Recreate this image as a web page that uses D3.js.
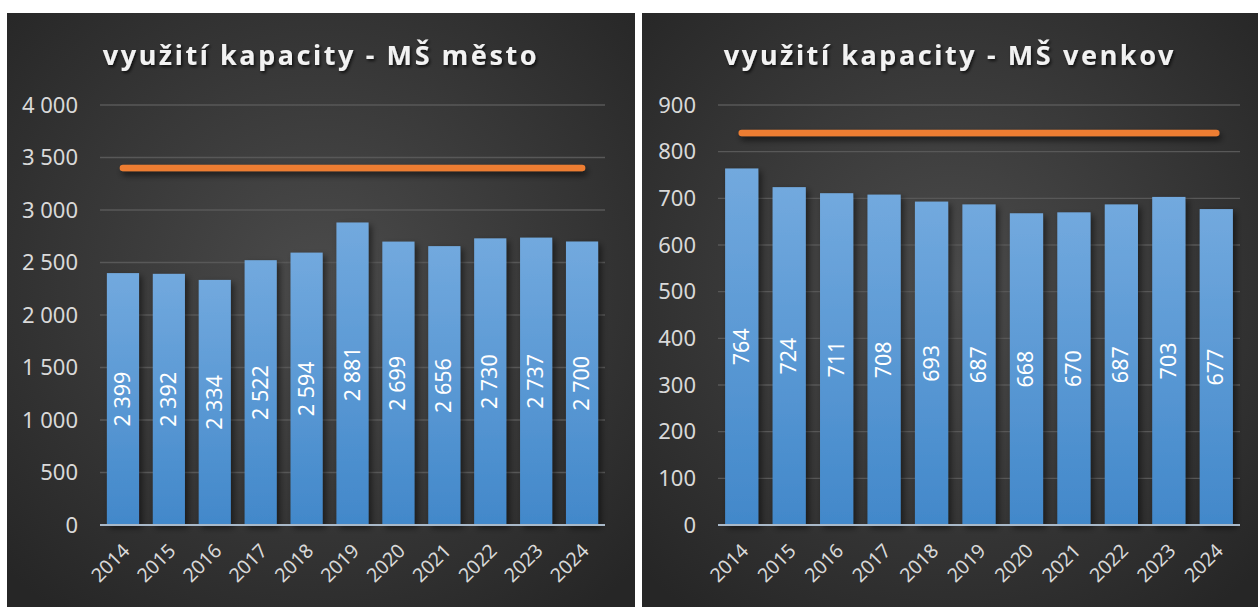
<!DOCTYPE html>
<html>
<head>
<meta charset="utf-8">
<script src="https://cdn.jsdelivr.net/npm/d3@7"></script>
<style>
  body { margin: 0; background: #fff; }
  svg { display: block; font-family: "Noto Sans", "Open Sans", sans-serif; }
</style>
</head>
<body>
<svg id="chart" width="1258" height="607"></svg>
<script>
const years = ["2014", "2015", "2016", "2017", "2018", "2019", "2020", "2021", "2022", "2023", "2024"];

const mestoValues = [2399, 2392, 2334, 2522, 2594, 2881, 2699, 2656, 2730, 2737, 2700];
const mestoCapacity = 3400;
const mestoTicks = [0, 500, 1000, 1500, 2000, 2500, 3000, 3500, 4000];

const venkovValues = [764, 724, 711, 708, 693, 687, 668, 670, 687, 703, 677];
const venkovCapacity = 840;
const venkovTicks = [0, 100, 200, 300, 400, 500, 600, 700, 800, 900];

const fmt = d3.formatLocale({ decimal: ",", thousands: " ", grouping: [3], currency: ["", " Kč"] }).format(",d");

const svg = d3.select("#chart");
const defs = svg.append("defs");

const bg = defs.append("radialGradient").attr("id", "bg").attr("cx", "50%").attr("cy", "45%").attr("r", "70%");
bg.append("stop").attr("offset", "0%").attr("stop-color", "#4b4b4b");
bg.append("stop").attr("offset", "100%").attr("stop-color", "#262626");

const barGrad = defs.append("linearGradient").attr("id", "bar").attr("x1", 0).attr("y1", 0).attr("x2", 0).attr("y2", 1);
barGrad.append("stop").attr("offset", "0%").attr("stop-color", "#72a9de");
barGrad.append("stop").attr("offset", "100%").attr("stop-color", "#4288ca");

const shadow = defs.append("filter").attr("id", "shadow").attr("x", "-30%").attr("y", "-30%").attr("width", "160%").attr("height", "160%");
shadow.append("feDropShadow").attr("dx", 3).attr("dy", 3).attr("stdDeviation", 3).attr("flood-color", "#000").attr("flood-opacity", 0.5);

// line has a zero-height bbox, so its shadow needs user space units
const lineShadow = defs.append("filter").attr("id", "lshadow").attr("filterUnits", "userSpaceOnUse")
  .attr("x", 0).attr("y", 0).attr("width", 1258).attr("height", 607);
lineShadow.append("feDropShadow").attr("dx", 2).attr("dy", 4).attr("stdDeviation", 3).attr("flood-color", "#000").attr("flood-opacity", 0.6);

const textShadow = defs.append("filter").attr("id", "tshadow").attr("x", "-10%").attr("y", "-30%").attr("width", "120%").attr("height", "160%");
textShadow.append("feDropShadow").attr("dx", 1.5).attr("dy", 2).attr("stdDeviation", 1.5).attr("flood-color", "#000").attr("flood-opacity", 0.7);

function panel(opt) {
  const g = svg.append("g");
  g.append("rect")
    .attr("x", opt.x0).attr("y", 13)
    .attr("width", opt.x1 - opt.x0).attr("height", 607 - 13)
    .attr("fill", "url(#bg)");

  g.append("text")
    .attr("x", (opt.x0 + opt.x1) / 2).attr("y", 65)
    .attr("text-anchor", "middle")
    .attr("fill", "#f2f2f2")
    .attr("font-size", 27).attr("font-weight", "bold")
    .attr("letter-spacing", 2.6)
    .attr("filter", "url(#tshadow)")
    .text(opt.title);

  const x = d3.scaleBand().domain(years).range([opt.left, opt.right]).paddingInner(0.3).paddingOuter(0.15);
  const y = d3.scaleLinear().domain([0, d3.max(opt.ticks)]).range([525, 105]);

  // gridlines
  g.append("g").selectAll("line")
    .data(opt.ticks.slice(1))
    .join("line")
    .attr("x1", opt.left).attr("x2", opt.right)
    .attr("y1", d => y(d)).attr("y2", d => y(d))
    .attr("stroke", "#585858").attr("stroke-width", 1.3);

  // y axis labels
  const yAxis = g.append("g")
    .attr("transform", `translate(${opt.left - 22},0)`)
    .call(d3.axisLeft(y).tickValues(opt.ticks).tickFormat(fmt).tickSize(0).tickPadding(0));
  yAxis.select(".domain").remove();
  yAxis.attr("font-size", 22).attr("font-family", "Noto Sans");
  yAxis.selectAll("text").attr("fill", "#d9d9d9");

  // bars
  g.append("g").selectAll("rect")
    .data(opt.values)
    .join("rect")
    .attr("x", (d, i) => x(years[i]))
    .attr("y", d => y(d))
    .attr("width", x.bandwidth())
    .attr("height", d => y(0) - y(d))
    .attr("fill", "url(#bar)")
    .attr("filter", "url(#shadow)");

  // baseline
  g.append("line")
    .attr("x1", opt.left).attr("x2", opt.right)
    .attr("y1", y(0)).attr("y2", y(0))
    .attr("stroke", "#a9b9c9").attr("stroke-width", 2);

  // data labels
  g.append("g").selectAll("text")
    .data(opt.values)
    .join("text")
    .attr("transform", (d, i) => `translate(${x(years[i]) + x.bandwidth() / 2 + 7},${(y(d) + y(0)) / 2}) rotate(-90)`)
    .attr("text-anchor", "middle")
    .attr("fill", "#ffffff")
    .attr("font-size", 21.5)
    .text(d => fmt(d));

  // capacity line
  g.append("line")
    .attr("x1", x(years[0]) + x.bandwidth() / 2)
    .attr("x2", x(years[years.length - 1]) + x.bandwidth() / 2)
    .attr("y1", y(opt.capacity)).attr("y2", y(opt.capacity))
    .attr("stroke", "#ed7d31").attr("stroke-width", 6.5)
    .attr("stroke-linecap", "round")
    .attr("filter", "url(#lshadow)");

  // x labels
  g.append("g").selectAll("text")
    .data(years)
    .join("text")
    .attr("transform", d => `translate(${x(d) + x.bandwidth() / 2 + 8},${y(0) + 27}) rotate(-45)`)
    .attr("text-anchor", "end")
    .attr("fill", "#d9d9d9")
    .attr("font-size", 19.5)
    .text(d => d);
}

panel({ title: "využití kapacity - MŠ město", x0: 7, x1: 635, left: 100, right: 605,
  values: mestoValues, capacity: mestoCapacity, ticks: mestoTicks });
panel({ title: "využití kapacity - MŠ venkov", x0: 642, x1: 1258, left: 718, right: 1240,
  values: venkovValues, capacity: venkovCapacity, ticks: venkovTicks });
</script>
</body>
</html>
